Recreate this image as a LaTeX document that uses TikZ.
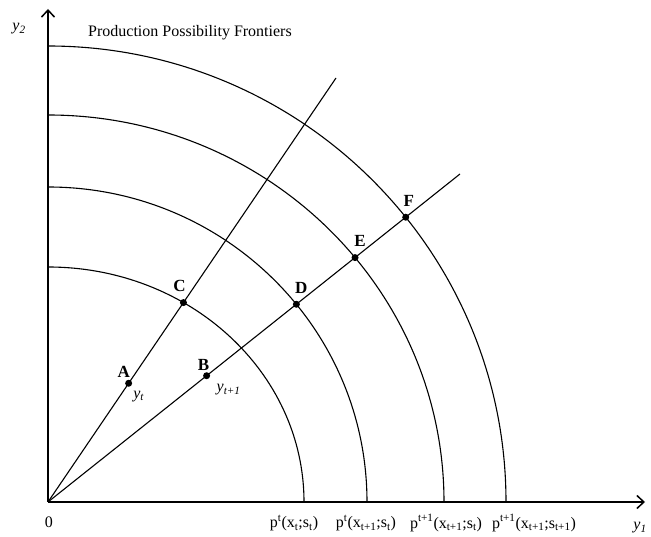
\documentclass[tikz,border=0pt]{standalone}
\usepackage{fontspec}
\setmainfont{Liberation Serif}
\usetikzlibrary{positioning, calc, arrows.meta, intersections}

\begin{document}
\begin{tikzpicture}[x=1pt, y=1pt,
    dot/.style={circle, fill, inner sep=0pt, minimum size=7pt},
    ptlabel/.style={font=\fontsize{17}{17}\selectfont\bfseries, inner sep=0pt},
    axlabel/.style={font=\fontsize{16}{16}\selectfont, inner sep=0pt}]
    \useasboundingbox (-48,-35) rectangle (603,502);

    % Draw axes
    \coordinate (O) at (0,0);
    \coordinate (X) at (597,0);
    \coordinate (Y) at (0,493);
    \draw[line width=1.5pt, -{Straight Barb[length=7pt,width=13pt]}] (O) -- (X);
    \draw[line width=1.5pt, -{Straight Barb[length=7pt,width=13pt]}] (O) -- (Y);

    % Draw production possibility frontiers
    \draw[line width=1.1pt, name path=ppfa] (256,0) arc[start angle=0, end angle=90, x radius=256, y radius=235];
    \draw[line width=1.1pt, name path=ppfb] (319,0) arc[start angle=0, end angle=90, x radius=319, y radius=315];
    \draw[line width=1.1pt, name path=ppfc] (396,0) arc[start angle=0, end angle=90, x radius=396, y radius=387];
    \draw[line width=1.1pt, name path=ppfd] (458,0) arc[start angle=0, end angle=90, x radius=458, y radius=456];

    % Draw rays from the origin
    \coordinate (Rt) at (288,424);
    \coordinate (Rs) at (412,328);
    \draw[line width=1.1pt, name path=rayt] (O) -- (Rt);
    \draw[line width=1.1pt, name path=rays] (O) -- (Rs);

    % Points on the rays
    \path (O) -- (Rt) coordinate[pos=0.28] (A);
    \path (O) -- (Rs) coordinate[pos=0.385] (B);
    \path[name intersections={of=rayt and ppfa, by=C}];
    \path[name intersections={of=rays and ppfb, by=D}];
    \path[name intersections={of=rays and ppfc, by=E}];
    \path[name intersections={of=rays and ppfd, by=F}];
    \foreach \p in {A,B,C,D,E,F}
        \node[dot] (dot\p) at (\p) {};

    % Add point labels
    \node[ptlabel] (labA) at ($(A)+(-5,11)$) {A};
    \node[ptlabel] (labB) at ($(B)+(-3,11)$) {B};
    \node[ptlabel] (labC) at ($(C)+(-4,17)$) {C};
    \node[ptlabel] (labD) at ($(D)+(5,16)$) {D};
    \node[ptlabel] (labE) at ($(E)+(5,17)$) {E};
    \node[ptlabel] (labF) at ($(F)+(3,16)$) {F};
    \node[axlabel] (yt) at ($(A)+(10,-13)$) {\itshape y\textsubscript{t}};
    \node[axlabel] (ytt) at ($(B)+(22,-14)$) {\itshape y\textsubscript{t+1}};

    % Add axis labels
    \node[axlabel] (zero) at (1,-20) {0};
    \node[axlabel] (ytwo) at (-29,473) {\itshape y\textsubscript{2}};
    \node[axlabel] (yone) at (592,-26) {\itshape y\textsubscript{1}};
    \node[axlabel] (title) at (142,469) {Production Possibility Frontiers};
    \node[axlabel] (pa) at (246,-21) {p\textsuperscript{t}(x\textsubscript{t};s\textsubscript{t})};
    \node[axlabel] (pb) at (318,-21) {p\textsuperscript{t}(x\textsubscript{t+1};s\textsubscript{t})};
    \node[axlabel] (pc) at (398,-21) {p\textsuperscript{t+1}(x\textsubscript{t+1};s\textsubscript{t})};
    \node[axlabel] (pd) at (486,-21) {p\textsuperscript{t+1}(x\textsubscript{t+1};s\textsubscript{t+1})};
\end{tikzpicture}
\end{document}
